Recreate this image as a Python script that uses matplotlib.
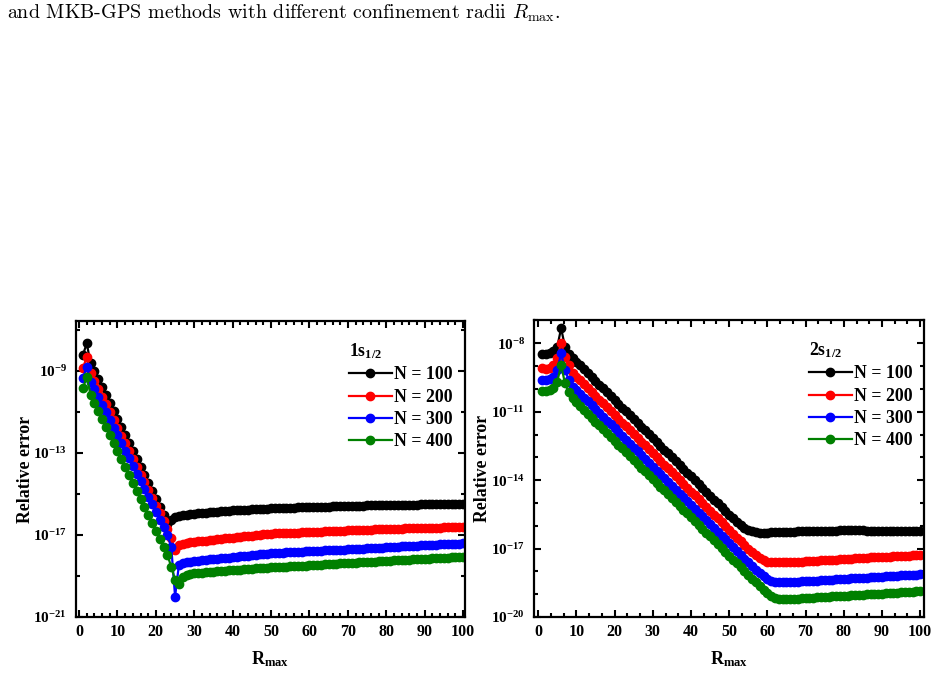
import numpy as np
import matplotlib

matplotlib.use('Agg')

from matplotlib import pyplot as plt
from matplotlib.ticker import FixedLocator, FuncFormatter, NullFormatter, MultipleLocator, AutoMinorLocator
from matplotlib.font_manager import FontProperties

plt.rcParams['font.family'] = 'Liberation Serif'
plt.rcParams['font.weight'] = 'bold'
plt.rcParams['mathtext.fontset'] = 'custom'
plt.rcParams['mathtext.rm'] = 'Liberation Serif:bold'
plt.rcParams['mathtext.bf'] = 'Liberation Serif:bold'
plt.rcParams['mathtext.it'] = 'Liberation Serif:bold'

##### Data (log10 of relative error), R_max = 1..100 #####
r_max = np.arange(1, 101)
labels = ['N = 100', 'N = 200', 'N = 300', 'N = 400']
colors = ['black', 'red', 'blue', 'green']

# 1s1/2
s1_n100 = [-8.22, -7.65, -8.63, -9.02, -9.41, -9.80, -10.19, -10.58, -10.97, -11.36,
           -11.75, -12.14, -12.53, -12.92, -13.31, -13.70, -14.09, -14.48, -14.87, -15.26,
           -15.65, -16.04, -16.45, -16.25, -16.14, -16.08, -16.04, -16.01, -15.99, -15.97,
           -15.95, -15.93, -15.91, -15.89, -15.87, -15.86, -15.84, -15.83, -15.82, -15.80,
           -15.79, -15.78, -15.77, -15.76, -15.75, -15.74, -15.73, -15.72, -15.71, -15.70,
           -15.69, -15.68, -15.68, -15.67, -15.66, -15.66, -15.65, -15.64, -15.64, -15.63,
           -15.63, -15.62, -15.62, -15.61, -15.61, -15.60, -15.60, -15.59, -15.59, -15.58,
           -15.58, -15.57, -15.57, -15.57, -15.56, -15.56, -15.55, -15.55, -15.55, -15.54,
           -15.54, -15.54, -15.53, -15.53, -15.53, -15.52, -15.52, -15.52, -15.51, -15.51,
           -15.51, -15.51, -15.50, -15.50, -15.50, -15.50, -15.49, -15.49, -15.49, -15.49]
s1_n200 = [-8.87, -8.30, -9.11, -9.49, -9.87, -10.25, -10.63, -11.01, -11.39, -11.77,
           -12.15, -12.53, -12.91, -13.29, -13.67, -14.05, -14.43, -14.81, -15.19, -15.57,
           -15.95, -16.33, -16.71, -17.16, -17.73, -17.49, -17.42, -17.38, -17.35, -17.33,
           -17.31, -17.29, -17.27, -17.25, -17.23, -17.21, -17.19, -17.17, -17.15, -17.13,
           -17.11, -17.09, -17.07, -17.05, -17.03, -17.01, -16.99, -16.97, -16.95, -16.93,
           -16.92, -16.91, -16.91, -16.90, -16.89, -16.88, -16.88, -16.87, -16.86, -16.85,
           -16.84, -16.84, -16.83, -16.82, -16.81, -16.81, -16.80, -16.79, -16.79, -16.78,
           -16.77, -16.77, -16.76, -16.75, -16.75, -16.74, -16.73, -16.73, -16.72, -16.71,
           -16.71, -16.70, -16.70, -16.69, -16.68, -16.68, -16.67, -16.67, -16.66, -16.66,
           -16.65, -16.65, -16.64, -16.64, -16.63, -16.63, -16.62, -16.62, -16.61, -16.61]
s1_n300 = [-9.33, -8.79, -9.52, -9.89, -10.27, -10.64, -11.02, -11.39, -11.76, -12.14,
           -12.51, -12.89, -13.26, -13.63, -14.01, -14.38, -14.76, -15.13, -15.50, -15.88,
           -16.25, -16.63, -17.00, -17.57, -20.00, -18.46, -18.38, -18.33, -18.30, -18.27,
           -18.25, -18.23, -18.21, -18.19, -18.17, -18.15, -18.13, -18.12, -18.10, -18.08,
           -18.06, -18.04, -18.02, -18.00, -17.98, -17.96, -17.94, -17.93, -17.91, -17.89,
           -17.88, -17.87, -17.86, -17.85, -17.84, -17.83, -17.82, -17.81, -17.80, -17.79,
           -17.78, -17.77, -17.76, -17.75, -17.75, -17.74, -17.73, -17.72, -17.71, -17.70,
           -17.69, -17.68, -17.67, -17.66, -17.65, -17.64, -17.63, -17.62, -17.61, -17.60,
           -17.59, -17.58, -17.57, -17.56, -17.55, -17.54, -17.53, -17.52, -17.51, -17.50,
           -17.49, -17.48, -17.47, -17.46, -17.45, -17.44, -17.43, -17.43, -17.42, -17.41]
s1_n400 = [-9.85, -9.28, -10.17, -10.56, -10.95, -11.34, -11.73, -12.12, -12.51, -12.90,
           -13.29, -13.68, -14.07, -14.46, -14.85, -15.24, -15.63, -16.02, -16.41, -16.80,
           -17.19, -17.58, -17.98, -18.54, -19.20, -19.40, -19.05, -18.97, -18.91, -18.87,
           -18.85, -18.84, -18.82, -18.81, -18.79, -18.78, -18.76, -18.75, -18.73, -18.72,
           -18.71, -18.69, -18.68, -18.66, -18.65, -18.63, -18.62, -18.61, -18.59, -18.58,
           -18.57, -18.56, -18.55, -18.54, -18.53, -18.52, -18.51, -18.50, -18.49, -18.48,
           -18.46, -18.45, -18.44, -18.43, -18.42, -18.41, -18.40, -18.39, -18.38, -18.37,
           -18.36, -18.35, -18.34, -18.33, -18.32, -18.31, -18.30, -18.29, -18.28, -18.27,
           -18.25, -18.24, -18.23, -18.22, -18.21, -18.20, -18.19, -18.18, -18.17, -18.16,
           -18.15, -18.14, -18.13, -18.12, -18.11, -18.10, -18.09, -18.08, -18.07, -18.06]

# 2s1/2
s2_n100 = [-8.47, -8.48, -8.44, -8.34, -8.15, -7.34, -8.15, -8.48, -8.66, -8.80,
           -8.97, -9.14, -9.30, -9.47, -9.64, -9.81, -9.98, -10.14, -10.31, -10.48,
           -10.65, -10.82, -10.98, -11.15, -11.32, -11.49, -11.66, -11.82, -11.99, -12.16,
           -12.33, -12.50, -12.66, -12.83, -13.00, -13.17, -13.34, -13.50, -13.67, -13.84,
           -14.01, -14.18, -14.34, -14.51, -14.68, -14.85, -15.02, -15.18, -15.35, -15.51,
           -15.67, -15.82, -15.96, -16.08, -16.18, -16.25, -16.29, -16.31, -16.31, -16.30,
           -16.29, -16.28, -16.28, -16.27, -16.27, -16.26, -16.26, -16.25, -16.25, -16.24,
           -16.24, -16.23, -16.23, -16.22, -16.22, -16.21, -16.21, -16.21, -16.20, -16.20,
           -16.20, -16.20, -16.20, -16.20, -16.20, -16.21, -16.21, -16.21, -16.21, -16.21,
           -16.22, -16.22, -16.22, -16.22, -16.22, -16.23, -16.23, -16.23, -16.23, -16.23]
s2_n200 = [-9.10, -9.13, -9.08, -8.95, -8.66, -8.00, -8.59, -8.95, -9.32, -9.46,
           -9.63, -9.80, -9.96, -10.13, -10.30, -10.47, -10.64, -10.80, -10.97, -11.14,
           -11.31, -11.48, -11.64, -11.81, -11.98, -12.15, -12.32, -12.48, -12.65, -12.82,
           -12.99, -13.16, -13.32, -13.49, -13.66, -13.83, -14.00, -14.16, -14.33, -14.50,
           -14.67, -14.84, -15.00, -15.17, -15.34, -15.51, -15.68, -15.84, -16.01, -16.18,
           -16.35, -16.52, -16.68, -16.85, -17.01, -17.16, -17.30, -17.42, -17.51, -17.57,
           -17.60, -17.61, -17.61, -17.60, -17.60, -17.59, -17.58, -17.58, -17.57, -17.56,
           -17.55, -17.54, -17.53, -17.52, -17.51, -17.50, -17.49, -17.48, -17.47, -17.46,
           -17.45, -17.44, -17.43, -17.42, -17.41, -17.40, -17.39, -17.38, -17.37, -17.37,
           -17.36, -17.35, -17.34, -17.33, -17.33, -17.32, -17.31, -17.30, -17.30, -17.29]
s2_n300 = [-9.61, -9.62, -9.57, -9.46, -9.17, -8.44, -9.17, -9.61, -9.90, -10.05,
           -10.22, -10.39, -10.55, -10.72, -10.89, -11.06, -11.23, -11.39, -11.56, -11.73,
           -11.90, -12.07, -12.23, -12.40, -12.57, -12.74, -12.91, -13.07, -13.24, -13.41,
           -13.58, -13.75, -13.91, -14.08, -14.25, -14.42, -14.59, -14.75, -14.92, -15.09,
           -15.26, -15.43, -15.59, -15.76, -15.93, -16.10, -16.27, -16.43, -16.60, -16.77,
           -16.94, -17.11, -17.27, -17.44, -17.61, -17.77, -17.93, -18.08, -18.21, -18.32,
           -18.40, -18.45, -18.47, -18.47, -18.46, -18.46, -18.45, -18.45, -18.44, -18.43,
           -18.42, -18.41, -18.40, -18.39, -18.38, -18.37, -18.36, -18.35, -18.34, -18.33,
           -18.32, -18.31, -18.30, -18.29, -18.28, -18.27, -18.26, -18.25, -18.24, -18.23,
           -18.22, -18.21, -18.20, -18.19, -18.18, -18.17, -18.16, -18.15, -18.14, -18.13]
s2_n400 = [-10.09, -10.10, -10.05, -9.95, -9.68, -8.95, -9.76, -10.15, -10.41, -10.59,
           -10.76, -10.93, -11.09, -11.26, -11.43, -11.60, -11.77, -11.93, -12.10, -12.27,
           -12.44, -12.61, -12.77, -12.94, -13.11, -13.28, -13.45, -13.61, -13.78, -13.95,
           -14.12, -14.29, -14.45, -14.62, -14.79, -14.96, -15.13, -15.29, -15.46, -15.63,
           -15.80, -15.97, -16.13, -16.30, -16.47, -16.64, -16.81, -16.97, -17.14, -17.31,
           -17.48, -17.65, -17.81, -17.98, -18.15, -18.32, -18.48, -18.65, -18.81, -18.96,
           -19.08, -19.16, -19.20, -19.21, -19.21, -19.21, -19.20, -19.19, -19.18, -19.17,
           -19.16, -19.15, -19.14, -19.13, -19.12, -19.11, -19.10, -19.09, -19.08, -19.07,
           -19.06, -19.05, -19.04, -19.03, -19.02, -19.01, -19.00, -18.99, -18.98, -18.97,
           -18.96, -18.95, -18.94, -18.93, -18.92, -18.91, -18.90, -18.89, -18.88, -18.87]

##### Figure #####
fig = plt.figure(figsize=(9.38, 6.76), dpi=100)

fig.text(0.0075, 1 - 19 / 676, r'and MKB-GPS methods with different confinement radii $R_{\mathrm{max}}$.',
         family='cmr10', math_fontfamily='cm', fontsize=14.4, fontweight='normal', va='baseline')

ax1 = fig.add_axes([76 / 938, 1 - 617 / 676, 389 / 938, 296 / 676])
ax2 = fig.add_axes([534 / 938, 1 - 617 / 676, 390 / 938, 297 / 676])

leg_font = FontProperties(family='Liberation Serif', weight='bold', size=12.8)


def sci(v, pos):
    return r'$\mathbf{10^{%d}}$' % int(round(np.log10(v)))


def style(ax, title, series, ylim, majors, minors, xminor, anchor):
    for vals, lab, c in zip(series, labels, colors):
        ax.plot(r_max, 10.0 ** np.array(vals), '-o', color=c, label=lab, lw=1.6, ms=6)
    ax.set_yscale('log')
    ax.set_ylim(*ylim)
    ax.yaxis.set_major_locator(FixedLocator(majors))
    ax.yaxis.set_minor_locator(FixedLocator(minors))
    ax.yaxis.set_major_formatter(FuncFormatter(sci))
    ax.yaxis.set_minor_formatter(NullFormatter())
    ax.xaxis.set_major_locator(MultipleLocator(10))
    ax.xaxis.set_minor_locator(xminor)
    ax.tick_params(which='both', direction='in', top=True, right=True, width=1.5)
    ax.tick_params(which='major', length=5)
    ax.tick_params(which='minor', length=3)
    ax.tick_params(axis='x', pad=5, labelsize=11.5)
    ax.tick_params(axis='y', pad=6.5, labelsize=11)
    for sp in ax.spines.values():
        sp.set_linewidth(1.6)
    for t in ax.get_xticklabels():
        t.set_fontweight('bold')
    ax.set_xlabel(r'$\mathbf{R_{max}}$', fontsize=13, labelpad=7)
    ax.set_ylabel('Relative error', fontsize=12.8, fontweight='bold')
    ax.yaxis.set_label_coords(-0.109, 0.5)
    ax.legend(title=title, loc='upper right', bbox_to_anchor=anchor, frameon=False, prop=leg_font,
              title_fontproperties=leg_font, handlelength=2.4, handletextpad=0.15, labelspacing=0.3,
              borderaxespad=0.5, alignment='left')


style(ax1, r'$\mathbf{1s_{1/2}}$', [s1_n100, s1_n200, s1_n300, s1_n400], (1e-21, 10 ** -6.56),
      [1e-21, 1e-17, 1e-13, 1e-9], [1e-19, 1e-15, 1e-11, 1e-7], MultipleLocator(2), (1.01, 0.985))
ax1.set_xlim(-0.8, 100.5)

style(ax2, r'$\mathbf{2s_{1/2}}$', [s2_n100, s2_n200, s2_n300, s2_n400], (1e-20, 10 ** -6.98),
      [1e-20, 1e-17, 1e-14, 1e-11, 1e-8],
      [1e-19, 1e-18, 1e-16, 1e-15, 1e-13, 1e-12, 1e-10, 1e-9, 1e-7], AutoMinorLocator(3), (1.013, 0.985))
ax2.set_xlim(-1.1, 101)

plt.savefig('out.png', dpi=100)
